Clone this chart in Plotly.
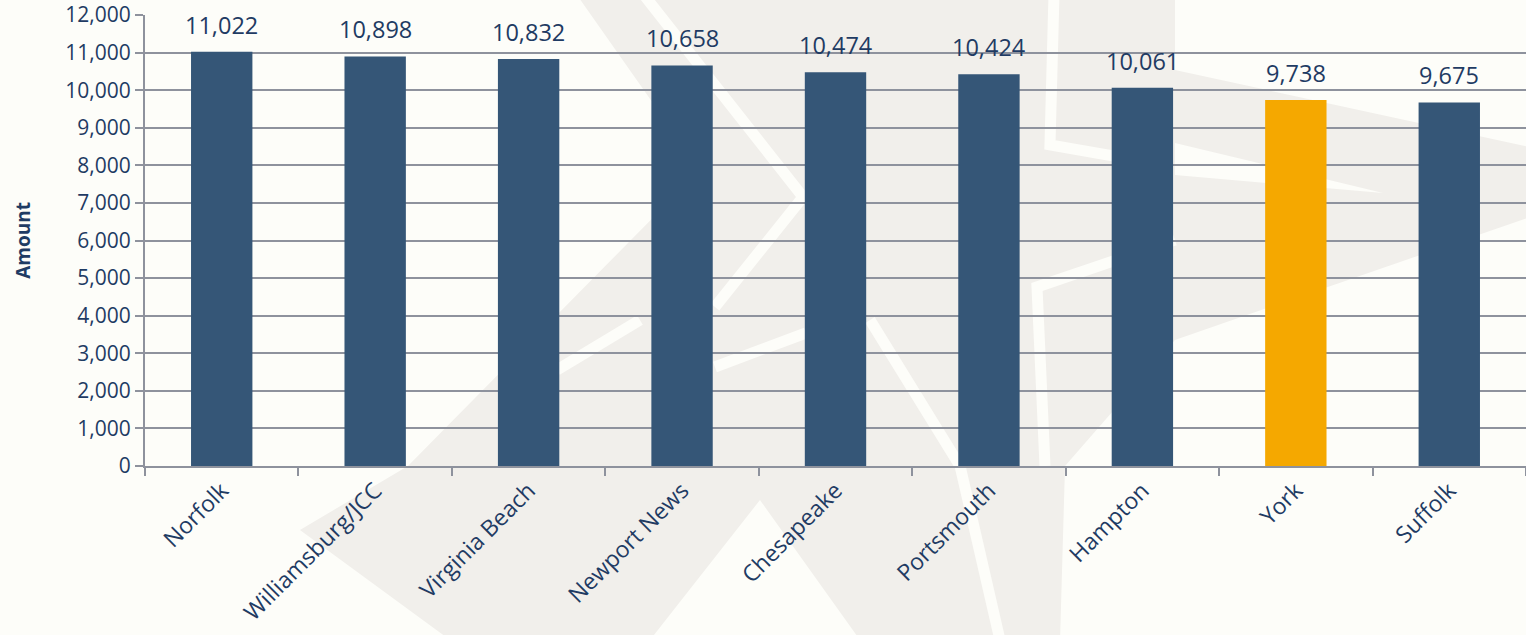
import plotly.graph_objects as go

categories = ["Norfolk", "Williamsburg/JCC", "Virginia Beach", "Newport News",
              "Chesapeake", "Portsmouth", "Hampton", "York", "Suffolk"]
amounts = [11022, 10898, 10832, 10658, 10474, 10424, 10061, 9738, 9675]
highlight = "York"
y_ticks = list(range(0, 12001, 1000))

NAVY = "#355677"
ORANGE = "#F5A800"
TEXT = "#1F3B63"
GRID = "#8E929D"
BG = "#FDFDF9"
WM = "#F1EFEB"

W, H = 1526, 635
ML, MR, MT, MB = 145, 0, 15, 169
PW, PH = W - ML - MR, H - MT - MB

def px2paper(px, py):
    return ((px - ML) / PW, (H - MB - py) / PH)

def poly(points):
    pts = [px2paper(x, y) for x, y in points]
    return "M " + " L ".join(f"{x:.4f},{y:.4f}" for x, y in pts) + " Z"

# decorative watermark (approximate star)
wm_polys = [
    [(577, -5), (1175, -5), (1175, 340), (1065, 466), (1060, 640), (860, 640), (760, 500),
     (650, 640), (450, 640), (300, 530), (408, 466), (700, 170)],
    [(1175, 70), (1530, 147), (1530, 217), (1175, 340), (1175, 175), (1383, 193), (1175, 143)],
]
wm_stripes = [
    [(644, -5), (803, 197), (715, 307)],
    [(870, 320), (960, 466), (1000, 640)],
    [(1054, -5), (1050, 145), (1165, 165)],
    [(1175, 240), (1037, 287), (1045, 466)],
    [(715, 367), (806, 333)],
    [(557, 370), (640, 320)],
]
shapes = [dict(type="path", path=poly(p), xref="paper", yref="paper",
               fillcolor=WM, line=dict(width=0), layer="below") for p in wm_polys]
for s in wm_stripes:
    pts = [px2paper(x, y) for x, y in s]
    path = "M " + " L ".join(f"{x:.4f},{y:.4f}" for x, y in pts)
    shapes.append(dict(type="path", path=path, xref="paper", yref="paper",
                       line=dict(color=BG, width=11), layer="below"))

colors = [ORANGE if c == highlight else NAVY for c in categories]

fig = go.Figure(go.Bar(x=categories, y=amounts, marker=dict(color=colors, line=dict(width=0)),
                       width=0.4, hoverinfo="x+y"))

annotations = [dict(x=c, y=v, text=f"{v:,}", showarrow=False, yanchor="bottom", yshift=9,
                    font=dict(family="Open Sans", size=23.5, color=TEXT))
               for c, v in zip(categories, amounts)]

fig.update_layout(
    width=W, height=H,
    margin=dict(l=ML, r=MR, t=MT, b=MB),
    paper_bgcolor=BG, plot_bgcolor="rgba(0,0,0,0)",
    showlegend=False,
    shapes=shapes,
    annotations=annotations,
    font=dict(family="Open Sans", size=21, color=TEXT),
    xaxis=dict(range=[-0.5, len(categories) - 0.5], tickangle=-45, ticks="outside",
               tickson="boundaries", ticklen=8, tickcolor=GRID, tickwidth=2,
               showline=True, linecolor=GRID, linewidth=2, showgrid=False,
               tickfont=dict(family="Open Sans", size=23, color=TEXT)),
    yaxis=dict(range=[0, 12000], tickvals=y_ticks, ticktext=[f"{t:,}" for t in y_ticks],
               showgrid=True, gridcolor=GRID, gridwidth=2, zeroline=False,
               showline=True, linecolor=GRID, linewidth=2,
               ticks="outside", ticklen=8, tickcolor=GRID, tickwidth=2,
               tickfont=dict(family="Open Sans", size=21, color=TEXT),
               title=dict(text="<b>Amount</b>", standoff=30,
                          font=dict(family="Open Sans", size=19, color=TEXT))),
)

fig.write_html("out.html", config={"displayModeBar": False},
               post_script="document.body.style.margin='0';document.body.style.background='" + BG + "';")
